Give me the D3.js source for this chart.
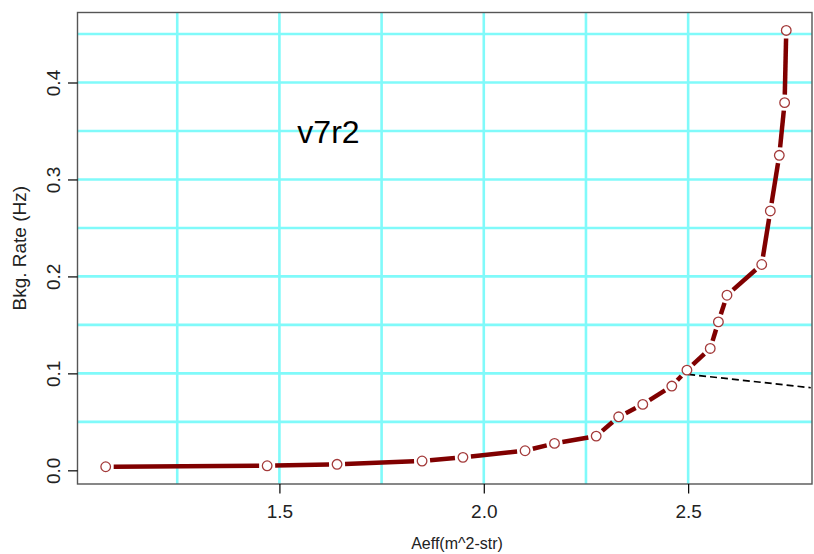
<!DOCTYPE html>
<html>
<head>
<meta charset="utf-8">
<script src="https://cdn.jsdelivr.net/npm/d3@7"></script>
<style>
  body { margin: 0; background: #ffffff; }
  svg { display: block; }
  .axis path { display: none; }
  .axis line { stroke: #000; stroke-width: 1.2; }
  .axis text { font-family: "Liberation Sans Narrow", "Arial Narrow", "Liberation Sans", Arial, sans-serif;
               font-size: 19px; fill: #222; }
  .lab { font-family: "Liberation Sans Narrow", "Arial Narrow", "Liberation Sans", Arial, sans-serif; fill: #222; }
</style>
</head>
<body>
<div id="chart"></div>
<script>

/* background rate vs effective area */
var aeff = [1.075, 1.470, 1.641, 1.849, 1.949, 2.101, 2.173, 2.275, 2.330, 2.389,
            2.460, 2.497, 2.554, 2.574, 2.595, 2.680, 2.701, 2.723, 2.736, 2.740];
var bkgRate = [0.0037, 0.0047, 0.0062, 0.0096, 0.0134, 0.0202, 0.0278, 0.0353, 0.0552, 0.0680,
               0.0869, 0.1033, 0.1257, 0.1531, 0.1806, 0.2123, 0.2675, 0.3249, 0.3792, 0.4537];

/* dashed reference line */
var refX = [2.5, 2.8],
    refY = [0.099, 0.0852];

var xTicks = [1.5, 2.0, 2.5],
    yTicks = [0.0, 0.1, 0.2, 0.3, 0.4];
var gridX = [1.25, 1.5, 1.75, 2.0, 2.25, 2.5],
    gridY = [0.05, 0.10, 0.15, 0.20, 0.25, 0.30, 0.35, 0.40, 0.45];

var xDomain = [1.006, 2.803],
    yDomain = [-0.0141, 0.4722];

var tagText = "v7r2",
    tagPos = [1.62, 0.35];
var xLabel = "Aeff(m^2-str)",
    yLabel = "Bkg. Rate (Hz)";

var W = 814, H = 554;
var margin = {left: 77.5, top: 12.5, right: 2, bottom: 70};
var width = 812 - margin.left,
    height = 484 - margin.top;

var x = d3.scaleLinear().domain(xDomain).range([0, width]),
    y = d3.scaleLinear().domain(yDomain).range([height, 0]);

var svg = d3.select("#chart").append("svg")
    .attr("width", W)
    .attr("height", H);

svg.append("defs").append("clipPath")
    .attr("id", "clip")
  .append("rect")
    .attr("width", width)
    .attr("height", height);

var g = svg.append("g")
    .attr("transform", "translate(" + margin.left + "," + margin.top + ")");

var plot = g.append("g").attr("clip-path", "url(#clip)");

/* grid */
plot.selectAll(".gx").data(gridX).enter().append("line")
    .attr("class", "gx")
    .attr("x1", function(d) { return x(d); })
    .attr("x2", function(d) { return x(d); })
    .attr("y1", 0).attr("y2", height)
    .attr("stroke", "#80fafa").attr("stroke-width", 2.6);

plot.selectAll(".gy").data(gridY).enter().append("line")
    .attr("class", "gy")
    .attr("y1", function(d) { return y(d); })
    .attr("y2", function(d) { return y(d); })
    .attr("x1", 0).attr("x2", width)
    .attr("stroke", "#80fafa").attr("stroke-width", 2.6);

/* reference line */
var ref = refX.map(function(d, i) { return [d, refY[i]]; });
plot.append("path")
    .datum(ref)
    .attr("fill", "none")
    .attr("stroke", "#000")
    .attr("stroke-width", 1.7)
    .attr("stroke-dasharray", "7,4")
    .attr("d", d3.line()
      .x(function(d) { return x(d[0]); })
      .y(function(d) { return y(d[1]); }));

/* curve, drawn like R type="b": segments with a gap round each point */
var pts = aeff.map(function(d, i) { return {x: x(d), y: y(bkgRate[i])}; });
var gap = 8;
var segs = [];
for (var i = 0; i < pts.length - 1; i++) {
  var a = pts[i], b = pts[i + 1];
  var dx = b.x - a.x, dy = b.y - a.y,
      len = Math.sqrt(dx * dx + dy * dy);
  if (len <= 2 * gap) continue;
  var ux = dx / len, uy = dy / len;
  segs.push({x1: a.x + ux * gap, y1: a.y + uy * gap,
             x2: b.x - ux * gap, y2: b.y - uy * gap});
}

plot.selectAll(".seg").data(segs).enter().append("line")
    .attr("class", "seg")
    .attr("x1", function(d) { return d.x1; })
    .attr("y1", function(d) { return d.y1; })
    .attr("x2", function(d) { return d.x2; })
    .attr("y2", function(d) { return d.y2; })
    .attr("stroke", "#800000")
    .attr("stroke-width", 4.5);

plot.selectAll(".pt").data(aeff).enter().append("circle")
    .attr("class", "pt")
    .attr("cx", function(d) { return x(d); })
    .attr("cy", function(d, i) { return y(bkgRate[i]); })
    .attr("r", 4.8)
    .attr("fill", "#fff")
    .attr("stroke", "#a33a3a")
    .attr("stroke-width", 1.3);

/* text tag inside the plot */
g.append("text")
    .attr("x", x(tagPos[0]))
    .attr("y", y(tagPos[1]))
    .attr("dy", "0.36em")
    .attr("text-anchor", "middle")
    .style("font-family", "'Liberation Sans', Arial, sans-serif")
    .style("font-size", "32px")
    .attr("fill", "#000")
    .text(tagText);

/* box */
g.append("rect")
    .attr("width", width)
    .attr("height", height)
    .attr("fill", "none")
    .attr("stroke", "#555")
    .attr("stroke-width", 1.4);

/* axes */
var xAxis = d3.axisBottom(x).tickValues(xTicks).tickFormat(d3.format(".1f"))
    .tickSize(9.5).tickSizeOuter(0);
var yAxis = d3.axisLeft(y).tickValues(yTicks).tickFormat(d3.format(".1f"))
    .tickSize(9.5).tickSizeOuter(0);

var gX = g.append("g")
    .attr("class", "axis axis--x")
    .attr("transform", "translate(0," + height + ")")
    .call(xAxis);
gX.selectAll("text").attr("y", 34).attr("dy", 0);

var gY = g.append("g")
    .attr("class", "axis axis--y")
    .call(yAxis);
gY.selectAll("text")
    .attr("x", 0)
    .attr("y", -17.5)
    .attr("dy", 0)
    .attr("text-anchor", "middle")
    .attr("transform", "rotate(-90)");

/* axis titles */
svg.append("text")
    .attr("class", "lab")
    .attr("x", 457)
    .attr("y", 549)
    .attr("text-anchor", "middle")
    .style("font-size", "16px")
    .text(xLabel);

svg.append("text")
    .attr("class", "lab")
    .attr("transform", "translate(26," + (margin.top + height / 2) + ") rotate(-90)")
    .attr("text-anchor", "middle")
    .style("font-size", "19px")
    .text(yLabel);

</script>
</body>
</html>
